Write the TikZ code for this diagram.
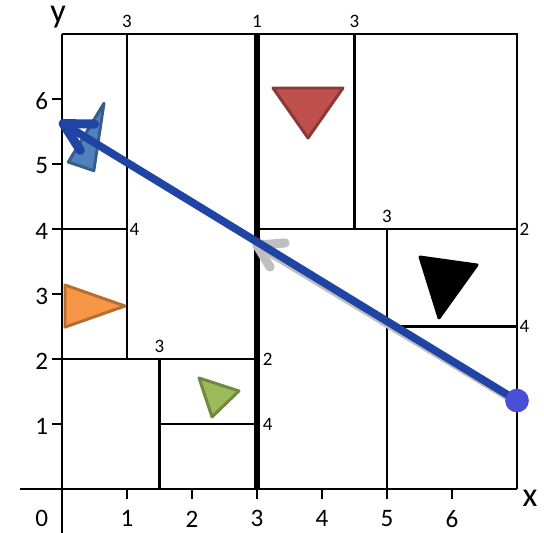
\documentclass[tikz,border=0pt]{standalone}
\usepackage{fontspec}
\setmainfont{Carlito}
\definecolor{arrowblue}{RGB}{31,68,163}
\definecolor{dotblue}{RGB}{74,79,216}
\definecolor{shadowgray}{RGB}{191,191,191}
\definecolor{redfill}{RGB}{192,80,77}
\definecolor{redline}{RGB}{140,56,54}
\definecolor{orangefill}{RGB}{247,150,70}
\definecolor{orangeline}{RGB}{182,109,49}
\definecolor{greenfill}{RGB}{155,187,89}
\definecolor{greenline}{RGB}{113,137,63}
\definecolor{bluefill}{RGB}{79,129,189}
\definecolor{blueline}{RGB}{56,93,138}
\begin{document}
\begin{tikzpicture}[x=1cm,y=1cm,
  gridline/.style={line width=0.9pt},
  splitline/.style={line width=2.8pt},
  axisline/.style={line width=1.3pt},
  lbl/.style={font=\fontsize{8.3}{9}\selectfont, inner sep=1pt},
  axlbl/.style={font=\fontsize{11}{13}\selectfont, inner sep=0pt},
  axname/.style={font=\fontsize{15}{17}\selectfont, inner sep=0pt, anchor=base},
  tri/.style={line width=1.3pt, line join=round},
  vecline/.style={line width=3.4pt, line cap=round, line join=round},
  barb/.style={line width=4pt, line cap=round, line join=round},
  dot/.style={circle, fill=dotblue, inner sep=0pt, minimum size=0.36cm}]
\useasboundingbox (-0.9538,-0.677) rectangle (7.4154,7.523);

% cell boundaries
\draw[gridline] (0,7) -- (7,7) -- (7,0);
\draw[gridline] (1,2) -- (1,7);
\draw[gridline] (0,4) -- (1,4);
\draw[gridline] (0,2) -- (3,2);
\draw[gridline] (1.5,0) -- (1.5,2);
\draw[gridline] (1.5,1) -- (3,1);
\draw[gridline] (3,4) -- (7,4);
\draw[gridline] (4.5,4) -- (4.5,7);
\draw[gridline] (5,0) -- (5,4);
\draw[gridline] (5,2.5) -- (7,2.5);
\draw[splitline] (3,0) -- (3,7);

% axes
\draw[axisline] (-0.646,0) -- (7,0);
\draw[axisline] (0,-0.7) -- (0,7);
\foreach \i in {1,...,6} {
  \draw[axisline] (\i,0) -- (\i,-0.15);
  \draw[axisline] (0,\i) -- (-0.15,\i);
  \node[axlbl] (xl\i) at (\i,-0.46) {\i};
  \node[axlbl] (yl\i) at (-0.31,\i-0.03) {\i};
}
\node[axlbl] (xl0) at (-0.31,-0.46) {0};
\node[axname] (xname) at (7.2,-0.277) {x};
\node[axname] (yname) at (-0.06,7.17) {y};

% depth labels
\node[lbl, above=1.5pt] (d1) at (1,7) {3};
\node[lbl, above=1.5pt] (d2) at (3,7) {1};
\node[lbl, above=1.5pt] (d3) at (4.5,7) {3};
\node[lbl, above=1.5pt] (d4) at (5,4) {3};
\node[lbl, above=1.5pt] (d5) at (1.5,2) {3};
\node[lbl, right=0pt] (d6) at (1,4) {4};
\node[lbl, right=0pt] (d7) at (7,4) {2};
\node[lbl, right=0pt] (d8) at (7,2.5) {4};
\node[lbl, right=0pt] (d9) at (3.05,2) {2};
\node[lbl, right=0pt] (d10) at (3.05,1) {4};

% triangles
\draw[tri, fill=redfill, draw=redline] (3.246,6.169) -- (4.323,6.169) -- (3.785,5.4) -- cycle;
\draw[tri, fill=orangefill, draw=orangeline] (0.046,3.138) -- (0.969,2.815) -- (0.046,2.49) -- cycle;
\draw[tri, fill=greenfill, draw=greenline] (2.108,1.708) -- (2.723,1.508) -- (2.308,1.108) -- cycle;
\draw[tri, fill=black, draw=black] (5.508,3.569) -- (6.385,3.446) -- (5.8,2.631) -- cycle;
\draw[tri, fill=bluefill, draw=blueline] (0.646,5.934) -- (0.097,5.03) -- (0.49,4.897) -- cycle;

% query point and vectors
\coordinate (gstart) at (7,1.33);
\coordinate (gtip) at (3.0,3.75);
\coordinate (btip) at (0.02,5.62);
\node[dot] (q) at (7,1.36) {};
\draw[vecline, draw=shadowgray] (gstart) -- (gtip);
\draw[barb, draw=shadowgray] ([shift={(0.431,0.035)}]gtip) -- (gtip) -- ([shift={(0.2,-0.335)}]gtip);
\draw[vecline, draw=arrowblue] (q.center) -- (btip);
\draw[barb, draw=arrowblue] ([shift={(0.48,-0.005)}]btip) -- (btip) -- ([shift={(0.262,-0.41)}]btip);
\node[dot] (q2) at (q.center) {};
\end{tikzpicture}
\end{document}
